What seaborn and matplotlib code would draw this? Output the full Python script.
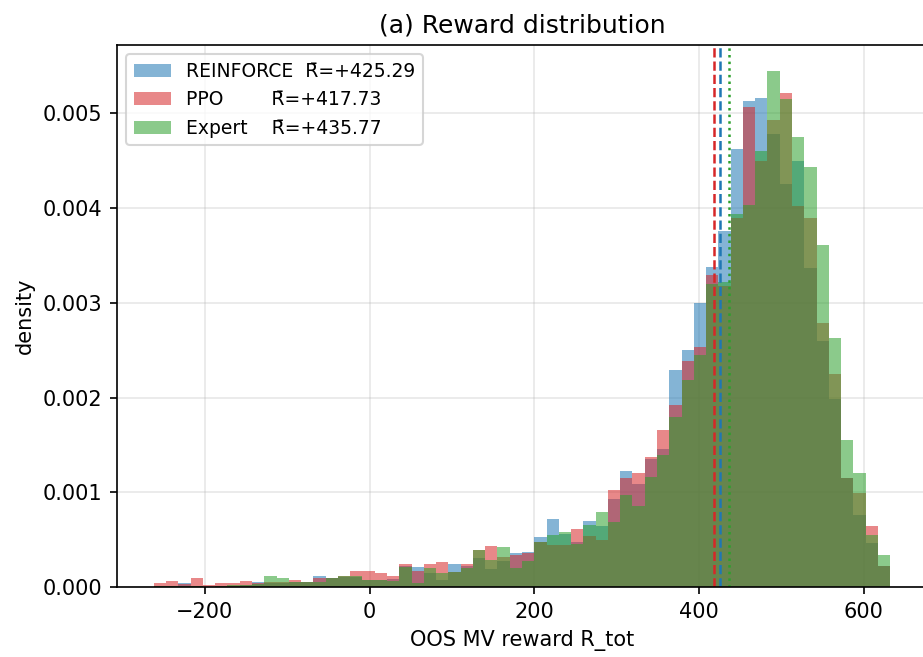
import numpy as np
import pandas as pd
import seaborn as sns
import matplotlib.pyplot as plt
import matplotlib.patches as mpatches

# histogram: 60 shared bins, density values (x 1e-3)
bin_lo, bin_hi, n_bins = -262.0, 632.0, 60

reinforce = [0.01, 0.01, 0.04, 0.01, 0.00, 0.01, 0.01, 0.02, 0.056, 0.04,
             0.04, 0.05, 0.05, 0.12, 0.09, 0.11, 0.11, 0.075, 0.075, 0.08,
             0.22, 0.21, 0.15, 0.07, 0.24, 0.22, 0.31, 0.19, 0.27, 0.36,
             0.37, 0.53, 0.72, 0.56, 0.48, 0.70, 0.64, 0.93, 1.22, 1.09,
             1.35, 1.46, 2.29, 2.50, 3.00, 3.38, 3.76, 4.62, 5.13, 5.16,
             4.78, 4.25, 4.50, 3.37, 2.60, 1.98, 1.15, 0.76, 0.46, 0.22]
ppo = [0.046, 0.063, 0.03, 0.10, 0.02, 0.045, 0.045, 0.06, 0.04, 0.055,
       0.055, 0.07, 0.055, 0.10, 0.10, 0.12, 0.165, 0.165, 0.15, 0.12,
       0.24, 0.17, 0.24, 0.26, 0.16, 0.24, 0.39, 0.43, 0.32, 0.34,
       0.36, 0.48, 0.44, 0.44, 0.61, 0.54, 0.50, 1.02, 1.15, 1.20,
       1.37, 1.66, 1.92, 2.39, 2.53, 3.29, 3.18, 3.90, 5.07, 4.50,
       4.93, 5.22, 4.02, 3.90, 2.79, 2.25, 1.15, 0.99, 0.64, 0.22]
expert = [0.01, 0.01, 0.01, 0.01, 0.005, 0.01, 0.02, 0.02, 0.03, 0.12,
          0.10, 0.05, 0.05, 0.055, 0.095, 0.12, 0.12, 0.075, 0.075, 0.065,
          0.21, 0.045, 0.20, 0.15, 0.16, 0.20, 0.39, 0.29, 0.42, 0.20,
          0.27, 0.48, 0.55, 0.58, 0.45, 0.65, 0.79, 0.69, 0.97, 0.86,
          1.16, 1.39, 1.80, 2.19, 2.45, 3.20, 3.22, 3.94, 4.03, 4.60,
          5.45, 5.15, 4.75, 4.43, 3.61, 2.63, 1.55, 1.20, 0.55, 0.34]

names = ["REINFORCE  ", "PPO        ", "Expert    "]
means = [425.29, 417.73, 435.77]
colors = ["#1f77b4", "#d62728", "#2ca02c"]
line_styles = ["--", "--", ":"]

edges = np.linspace(bin_lo, bin_hi, n_bins + 1)
centers = (edges[:-1] + edges[1:]) / 2

fig = plt.figure(figsize=(923 / 150, 657 / 150), dpi=150)
# the source panel is cut off on the right, so the axes run past the edge
ax = fig.add_axes([117 / 923, 70 / 657, 810 / 923, 542 / 657])

handles = []
for name, vals, c, m in zip(names, [reinforce, ppo, expert], colors, means):
    df = pd.DataFrame({"x": centers, "w": np.array(vals) * 1e-3})
    sns.histplot(data=df, x="x", weights="w", bins=list(edges), stat="count",
                 color=c, alpha=0.55, linewidth=0, ax=ax)
    handles.append(mpatches.Patch(facecolor=c, edgecolor="none", alpha=0.55,
                                  label=f"{name}R\u0304={m:+.2f}"))

for m, c, ls in zip(means, colors, line_styles):
    ax.axvline(m, color=c, ls=ls, lw=1.2)

ax.set_xlim(-306.7, 676.7)
ax.spines["right"].set_visible(False)
ax.grid(alpha=0.3)
ax.set_axisbelow(True)
ax.set_xlabel("OOS MV reward R_tot")
ax.set_ylabel("density")
ax.set_title("(a) Reward distribution", fontsize=12)
ax.legend(handles=handles, loc="upper left", fontsize=9)

fig.savefig("out.png", dpi=150)
